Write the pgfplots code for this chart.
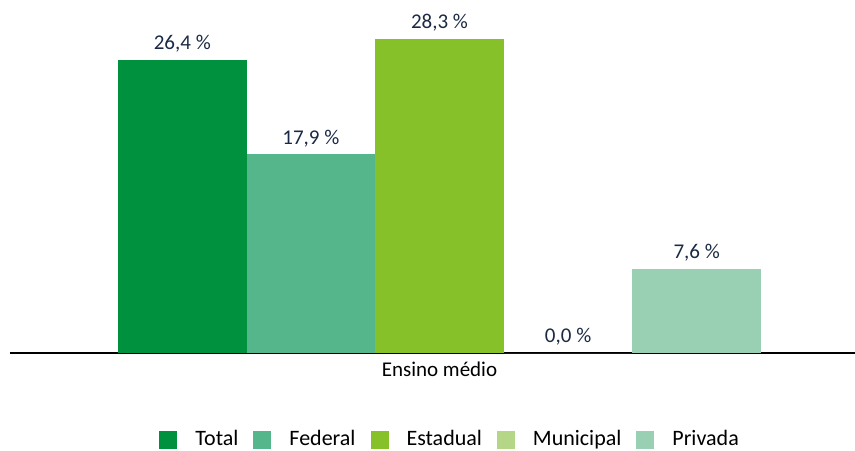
\documentclass[border=0pt]{standalone}
\usepackage{fontspec}
\setmainfont{Carlito}
\usepackage{pgfplots}
\pgfplotsset{compat=1.18}
\definecolor{cTotal}{HTML}{00913F}
\definecolor{cFederal}{HTML}{55B68C}
\definecolor{cEstadual}{HTML}{86C12A}
\definecolor{cMunicipal}{HTML}{B5D686}
\definecolor{cPrivada}{HTML}{99CFB3}
\definecolor{labelc}{HTML}{1B2A44}
\begin{document}
\fontsize{10.5}{12.6}\selectfont
\begin{tikzpicture}
\useasboundingbox (-5pt,-48.5pt) rectangle (422.5pt,176.5pt);
\begin{axis}[
  at={(0pt,0pt)}, anchor=south west,
  width=422.5pt, height=166.5pt, scale only axis,
  ybar=0pt, bar width=64.3pt,
  xmin=-1.0166, xmax=0.9834,
  ymin=0, ymax=30,
  axis y line=none,
  axis x line=bottom,
  axis line style={-, black, line width=0.6pt},
  xtick={0}, xticklabels={Ensino médio},
  major tick length=0pt,
  xticklabel style={font=\fontsize{10.5}{12.6}\selectfont, yshift=-1pt},
  point meta=explicit symbolic,
  nodes near coords,
  nodes near coords style={font=\fontsize{10.5}{12.6}\selectfont, text=labelc},
  clip=false,
  legend columns=5,
  legend style={at={(0.522,-0.261)}, anchor=center, draw=none,
    font=\fontsize{11}{13}\selectfont,
    /tikz/every odd column/.append style={column sep=7pt},
    /tikz/every even column/.append style={column sep=5.5pt}},
  legend image code/.code={\fill[#1] (0pt,-4.5pt) rectangle (9pt,4.5pt);},
]
\addplot[fill=cTotal, draw=none] coordinates {(0,26.4) [26,4 \%]};
\addplot[fill=cFederal, draw=none] coordinates {(0,17.9) [17,9 \%]};
\addplot[fill=cEstadual, draw=none] coordinates {(0,28.3) [28,3 \%]};
\addplot[fill=cMunicipal, draw=none] coordinates {(0,0.0) [0,0 \%]};
\addplot[fill=cPrivada, draw=none] coordinates {(0,7.6) [7,6 \%]};
\legend{Total, Federal, Estadual, Municipal, Privada}
\end{axis}
\end{tikzpicture}
\end{document}
